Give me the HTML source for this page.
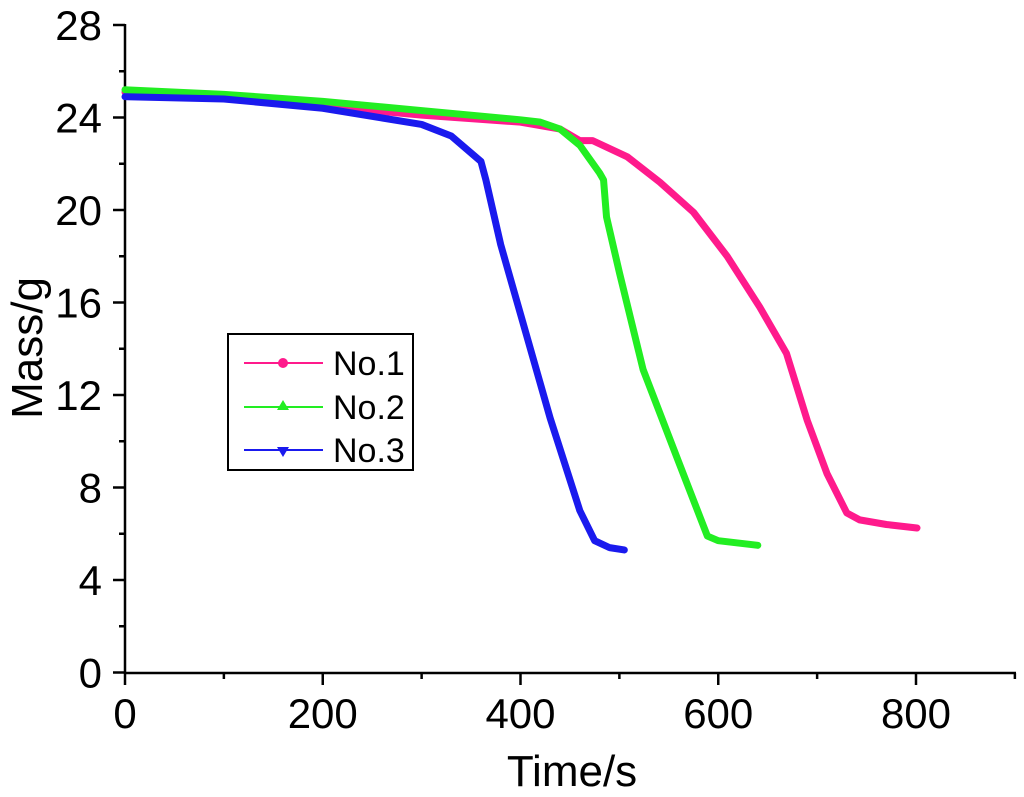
<!DOCTYPE html>
<html><head><meta charset="utf-8"><style>body{margin:0;background:#fff}svg{display:block;font-family:"Liberation Sans",Arial,sans-serif}</style></head>
<body>
<svg id="chart" width="1024" height="797" viewBox="0 0 1024 797"></svg>
<script>
const xTicks=[0,200,400,600,800];
const yTicks=[0,4,8,12,16,20,24,28];
const seriesNames=["No.1","No.2","No.3"];
const seriesColors=["#ff1a8c","#22ee22","#1a1aee"];
const t1=[0,100,200,300,400,440,460,473,508,541,575,609,642,669,690,710,730,743,770,801];
const m1=[25.1,24.9,24.5,24.1,23.8,23.5,23.0,23.0,22.3,21.2,19.9,18.0,15.8,13.8,10.9,8.6,6.9,6.6,6.4,6.25];
const t2=[0,100,200,300,400,420,440,460,470,480,484,487,500,524,560,589,600,640];
const m2=[25.2,25.0,24.7,24.3,23.9,23.8,23.5,22.8,22.2,21.6,21.3,19.7,17.3,13.1,9.1,5.9,5.7,5.5];
const t3=[0,100,200,300,330,360,365,380,400,430,460,475,490,505];
const m3=[24.9,24.8,24.4,23.7,23.2,22.1,21.3,18.5,15.5,11.0,7.0,5.7,5.4,5.3];
const X=v=>125+v*(791/800), Y=v=>672.5-v*(92.5/4);
const svg=document.getElementById('chart');const NS="http://www.w3.org/2000/svg";
function mk(tag,at,txt){const e=document.createElementNS(NS,tag);for(const k in at)e.setAttribute(k,at[k]);if(txt!==undefined)e.textContent=txt;svg.appendChild(e);return e;}
let e=mk('line',{x1:125,y1:24,x2:125,y2:674,stroke:'#000','stroke-width':2.5});


e=mk('line',{x1:124,y1:673,x2:1016,y2:673,stroke:'#000','stroke-width':2.5});


for(let v=0;v<=900;v+=100){const maj=v%200===0;e=mk('line',{x1:X(v),y1:673,x2:X(v),y2:673+(maj?12:6),stroke:'#000','stroke-width':2.5});

}
xTicks.forEach(v=>{e=mk('text',{x:X(v),y:728,'font-size':42,'text-anchor':'middle'},String(v));

});
for(let v=0;v<=28;v+=2){const maj=v%4===0;e=mk('line',{x1:125,y1:Y(v),x2:125-(maj?12:6),y2:Y(v),stroke:'#000','stroke-width':2.5});

}
yTicks.forEach(v=>{e=mk('text',{x:102,y:Y(v)+15,'font-size':42,'text-anchor':'end'},String(v));

});
e=mk('text',{x:572,y:786,'font-size':44,'text-anchor':'middle'},'Time/s');


e=mk('text',{x:0,y:0,'font-size':44,'text-anchor':'middle',transform:'translate(42,348) rotate(-90)'},'Mass/g');


const ts=[t1,t2,t3],ms=[m1,m2,m3];
ts.forEach((t,i)=>{const pts=t.map((v,j)=>X(v)+','+Y(ms[i][j])).join(' ');
e=mk('polyline',{points:pts,fill:'none',stroke:seriesColors[i],'stroke-width':7,'stroke-linejoin':'round','stroke-linecap':'round'});

});
e=mk('rect',{x:228,y:334,width:185,height:136,fill:'#fff',stroke:'#000','stroke-width':2});


const ly=[363,407,450];
seriesNames.forEach((n,i)=>{const y=ly[i];
e=mk('line',{x1:244,y1:y,x2:323,y2:y,stroke:seriesColors[i],'stroke-width':2});


if(i===0)e=mk('circle',{cx:283,cy:y,r:5,fill:seriesColors[i]});
else if(i===1)e=mk('polygon',{points:`283,${y-7} 277,${y+3} 289,${y+3}`,fill:seriesColors[i]});
else e=mk('polygon',{points:`283,${y+7} 277,${y-3} 289,${y-3}`,fill:seriesColors[i]});


e=mk('text',{x:333,y:y+12,'font-size':34},n);

});
</script>
</body></html>
